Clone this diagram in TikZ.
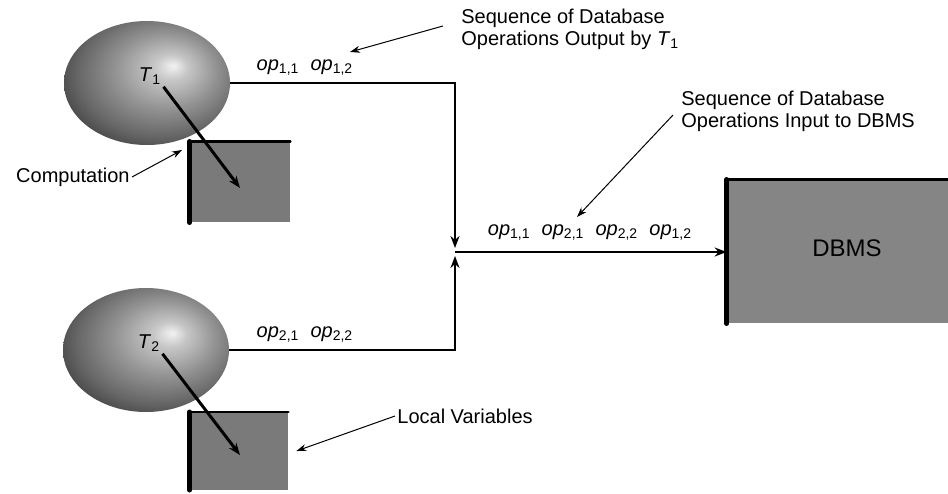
\documentclass[tikz,border=0pt]{standalone}
\usepackage{fontspec}
\setmainfont{Liberation Sans}
\usetikzlibrary{shapes.geometric,positioning,arrows.meta}

\pgfdeclareradialshading{txball}{\pgfpoint{8bp}{7bp}}{%
  color(0bp)=(black!5); color(5bp)=(black!22); color(15bp)=(black!42);
  color(25bp)=(black!60); color(35bp)=(black!82); color(50bp)=(black!92)}

\tikzset{
  proc/.style={ellipse, shade, shading=txball, minimum width=83pt,
    minimum height=62pt, inner sep=0pt},
  store/.style={rectangle, fill=black!52, inner sep=0pt},
  rimside/.style={line width=2.6pt, line cap=round},
  rimtop/.style={line width=1.3pt, line cap=round},
  flow/.style={line width=1pt},
  flowto/.style={flow, -{Stealth[length=6pt,width=4.5pt]}},
  pointer/.style={line width=0.5pt, -{Stealth[length=5pt,width=3.5pt]}},
  tdo/.style={line width=1.5pt, -{Stealth[length=6pt,width=4.5pt]}},
  lbl/.style={font=\fontsize{10}{11}\selectfont, inner sep=1pt},
  opseq/.style={lbl}
}
\newcommand{\opx}[1]{\textit{op}\textsubscript{#1}}

\begin{document}
\begin{tikzpicture}[x=0.5pt,y=-0.5pt]
\useasboundingbox (0,0) rectangle (948,493);

% transactions
\node[proc] (tr1) at (147,83) {};
\node[proc] (tr2) at (146,350) {};
\node[store, minimum width=50pt, minimum height=40pt] (comp) at (240,182) {};
\node[store, minimum width=49pt, minimum height=38.5pt] (locv) at (239,451) {};
\draw[rimtop] (comp.north west) -- (comp.north east);
\draw[rimside] (comp.south west) -- (comp.north west);
\draw[rimtop] (locv.north west) -- (locv.north east);
\draw[rimside] (locv.south west) -- (locv.north west);
\node[lbl] (t1) at (150,76) {\textit{T}\textsubscript{1}};
\node[lbl] (t2) at (149,343) {\textit{T}\textsubscript{2}};
\coordinate (t1end) at (240,188);
\coordinate (t2end) at (240,455);
\draw[tdo] (t1.south east) -- (t1end);
\draw[tdo] (t2.south east) -- (t2end);

% DBMS
\node[store, fill=black!48, minimum width=110.5pt, minimum height=71.5pt,
  font=\fontsize{12}{14}\selectfont] (dbms) at (837.5,251.5) {};
\node[font=\fontsize{12}{14}\selectfont] (dbmslbl) at (847,248) {DBMS};
\draw[rimtop] (dbms.north west) -- (dbms.north east);
\draw[rimside] (dbms.south west) -- (dbms.north west);

% flows
\coordinate (join) at (455,252);
\draw[flowto] (tr1.east) -- (455,83) -- ([yshift=2pt]join);
\draw[flowto] (tr2.east) -- (455,350) -- ([yshift=-2pt]join);
\draw[flowto] (join) -- (dbms.west |- join);

\node[opseq] (ops1) at (305,68) {\opx{1,1}\ \ \opx{1,2}};
\node[opseq] (ops2) at (305,335) {\opx{2,1}\ \ \opx{2,2}};
\node[opseq] (opsall) at (590,233) {\opx{1,1}\ \ \opx{2,1}\ \ \opx{2,2}\ \ \opx{1,2}};

% callouts
\node[lbl, anchor=east] (complbl) at (132,177) {Computation};
\coordinate (comptip) at (182,150);
\draw[pointer] (complbl.east) -- (comptip);

\node[lbl, anchor=west] (locvlbl) at (395,416) {Local Variables};
\draw[pointer] (locvlbl.west) -- ([xshift=4pt]locv.east);

\node[lbl, anchor=west, align=left] (seqout) at (459,29)
  {Sequence of Database\\Operations Output by \textit{T}\textsubscript{1}};
\coordinate (seqoutsrc) at (443,26);
\coordinate (seqouttip) at (350,52);
\draw[pointer] (seqoutsrc) -- (seqouttip);

\node[lbl, anchor=west, align=left] (seqin) at (679,111)
  {Sequence of Database\\Operations Input to DBMS};
\coordinate (seqinsrc) at (673,115);
\coordinate (seqintip) at (577,217);
\draw[pointer] (seqinsrc) -- (seqintip);
\end{tikzpicture}
\end{document}
